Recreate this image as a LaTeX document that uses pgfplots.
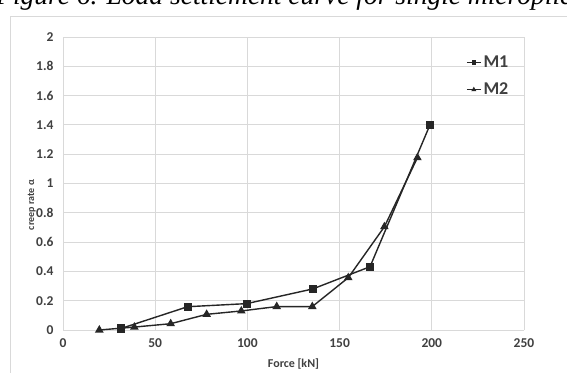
\documentclass[border=0pt]{standalone}
\usepackage{pgfplots}
\pgfplotsset{compat=1.18}
\usepackage{fontspec}
\setmainfont{Carlito}
\newfontfamily\capfont{Liberation Serif}
\definecolor{gridc}{HTML}{D9D9D9}
\definecolor{txt}{HTML}{404040}
\begin{document}
\begin{tikzpicture}[x=1pt,y=1pt]
\useasboundingbox (0,0) rectangle (567,372);
\fill[white] (0,0) rectangle (567,372);
\draw[gridc, line width=0.8pt] (10,-5) rectangle (590,356);
\node[anchor=base west, inner sep=0, font=\capfont\itshape\fontsize{27.5}{27.5}\selectfont] at (-4,367) {Figure 6. Load settlement curve for single micropile};
\begin{axis}[
  at={(63pt,42pt)}, anchor=south west,
  scale only axis, width=461pt, height=293pt,
  xmin=0, xmax=250, ymin=0, ymax=2,
  axis line style={draw=none},
  major tick length=0pt,
  grid=major,
  major grid style={gridc, line width=0.8pt},
  xtick={0,50,100,150,200,250},
  xticklabels={0,50,100,150,200,250},
  ytick={0,0.2,0.4,0.6,0.8,1,1.2,1.4,1.6,1.8,2},
  yticklabels={0,0.2,0.4,0.6,0.8,1,1.2,1.4,1.6,1.8,2},
  ticklabel style={font=\bfseries\fontsize{13.5}{13.5}\selectfont, text=txt},
  xticklabel style={yshift=-5pt},
  yticklabel style={xshift=-6pt},
  xlabel={Force [kN]},
  ylabel={creep rate\;α},
  xlabel style={font=\bfseries\fontsize{12}{12}\selectfont, text=txt, at={(axis description cs:0.5,-0.116)}, anchor=center},
  ylabel style={font=\bfseries\fontsize{10}{10}\selectfont, text=txt, at={(axis description cs:-0.068,0.427)}, anchor=center},
  legend style={at={(axis description cs:0.874,0.943)}, anchor=north west, draw=none, fill=none, inner sep=0pt,
    font=\bfseries\fontsize{18}{18}\selectfont, text=txt, row sep=10pt, cells={anchor=west}},
  legend image code/.code={\draw[mark repeat=2,mark phase=2,#1,mark size=1.6pt] plot coordinates {(0pt,0pt) (7pt,0pt) (14pt,0pt)};},
]
\addplot[black!85, line width=1.4pt, mark=square*, mark size=3.4pt] coordinates {
(31.4,0.01) (67.6,0.159) (99.6,0.18) (135.4,0.28) (166.5,0.432) (199,1.40)};
\addlegendentry{M1}
\addplot[black!85, line width=1.4pt, mark=triangle*, mark size=3.6pt] coordinates {
(19.7,0.0) (38.7,0.02) (58.4,0.043) (77.9,0.107) (96.7,0.13) (115.9,0.16) (135.2,0.16) (154.7,0.357) (174.3,0.705) (192.2,1.176)};
\addlegendentry{M2}
\end{axis}
\end{tikzpicture}
\end{document}
